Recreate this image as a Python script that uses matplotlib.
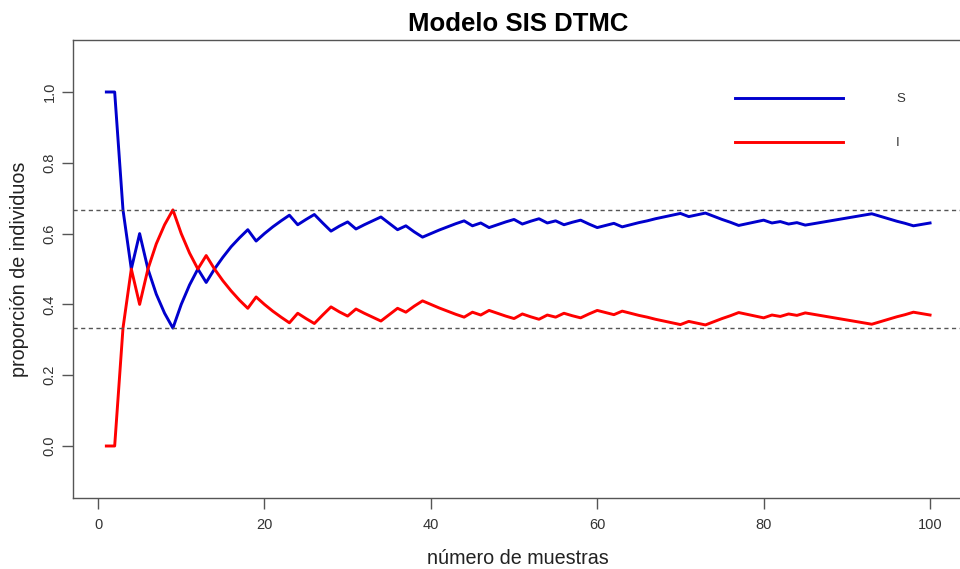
import numpy as np
import matplotlib
matplotlib.use('Agg')
import matplotlib.pyplot as plt

plt.rcParams['font.family'] = ['Liberation Sans', 'DejaVu Sans']

# proportions of S and I per sample (running averages of the chain)
muestras = list(range(1, 101))
S = [1.000, 1.000, 0.667, 0.500, 0.600, 0.500, 0.429, 0.375, 0.333, 0.400,
     0.455, 0.500, 0.462, 0.500, 0.533, 0.563, 0.588, 0.611, 0.579, 0.600,
     0.619, 0.636, 0.652, 0.625, 0.640, 0.654, 0.630, 0.607, 0.621, 0.633,
     0.613, 0.625, 0.636, 0.647, 0.629, 0.611, 0.622, 0.605, 0.590, 0.600,
     0.610, 0.619, 0.628, 0.636, 0.622, 0.630, 0.617, 0.625, 0.633, 0.640,
     0.627, 0.635, 0.642, 0.630, 0.636, 0.625, 0.632, 0.638, 0.627, 0.617,
     0.623, 0.629, 0.619, 0.625, 0.631, 0.636, 0.642, 0.647, 0.652, 0.657,
     0.648, 0.653, 0.658, 0.649, 0.640, 0.632, 0.623, 0.628, 0.633, 0.638,
     0.630, 0.634, 0.627, 0.631, 0.624, 0.628, 0.632, 0.636, 0.640, 0.644,
     0.648, 0.652, 0.656, 0.649, 0.642, 0.635, 0.629, 0.622, 0.626, 0.630]
I = [0.000, 0.000, 0.333, 0.500, 0.400, 0.500, 0.571, 0.625, 0.667, 0.600,
     0.545, 0.500, 0.538, 0.500, 0.467, 0.438, 0.412, 0.389, 0.421, 0.400,
     0.381, 0.364, 0.348, 0.375, 0.360, 0.346, 0.370, 0.393, 0.379, 0.367,
     0.387, 0.375, 0.364, 0.353, 0.371, 0.389, 0.378, 0.395, 0.410, 0.400,
     0.390, 0.381, 0.372, 0.364, 0.378, 0.370, 0.383, 0.375, 0.367, 0.360,
     0.373, 0.365, 0.358, 0.370, 0.364, 0.375, 0.368, 0.362, 0.373, 0.383,
     0.377, 0.371, 0.381, 0.375, 0.369, 0.364, 0.358, 0.353, 0.348, 0.343,
     0.352, 0.347, 0.342, 0.351, 0.360, 0.368, 0.377, 0.372, 0.367, 0.362,
     0.370, 0.366, 0.373, 0.369, 0.376, 0.372, 0.368, 0.364, 0.360, 0.356,
     0.352, 0.348, 0.344, 0.351, 0.358, 0.365, 0.371, 0.378, 0.374, 0.370]
equilibrio = [2 / 3, 1 / 3]

xticks = [0, 20, 40, 60, 80, 100]
yticks = [0.0, 0.2, 0.4, 0.6, 0.8, 1.0]

W, H = 960, 569
fig = plt.figure(figsize=(W / 100, H / 100), dpi=100)
ax = fig.add_axes([73.4 / W, 1 - 498.4 / H, 889.6 / W, 458.8 / H])

ax.plot(muestras, S, color='#0000CD', lw=2.1, label='S')
ax.plot(muestras, I, color='#FF0000', lw=2.1, label='I')
for e in equilibrio:
    ax.axhline(e, color='#555555', lw=1.0, ls=(0, (3, 2.5)))

ax.set_xlim(-2.96, 103.96)
ax.set_ylim(-0.148, 1.148)

ax.set_xticks(xticks)
ax.set_xticklabels([str(x) for x in xticks])
ax.set_yticks(yticks)
ax.set_yticklabels(['%.1f' % y for y in yticks], rotation=90, va='center')
ax.tick_params(direction='out', length=8, width=1, color='#555555',
               labelsize=10.5, labelcolor='#333333', pad=6)
ax.tick_params(axis='y', pad=4)
for side in ['left', 'bottom', 'top']:
    ax.spines[side].set_color('#555555')
    ax.spines[side].set_linewidth(1)
ax.spines['right'].set_visible(False)

ax.set_title('Modelo SIS DTMC', fontsize=18.5, fontweight='bold', pad=6)
ax.set_xlabel('número de muestras', fontsize=14.2, color='#222222', labelpad=12)
ax.set_ylabel('proporción de individuos', fontsize=14.2, color='#222222', labelpad=10)

leg = ax.legend(loc='upper left', bbox_to_anchor=(735 / W, 1 - 93 / H),
                bbox_transform=fig.transFigure, frameon=False, fontsize=9.5,
                handlelength=8.2, handletextpad=4.0, labelspacing=2.4,
                borderpad=0, borderaxespad=0)
for t in leg.get_texts():
    t.set_color('#333333')

fig.savefig('out.png', dpi=100)
